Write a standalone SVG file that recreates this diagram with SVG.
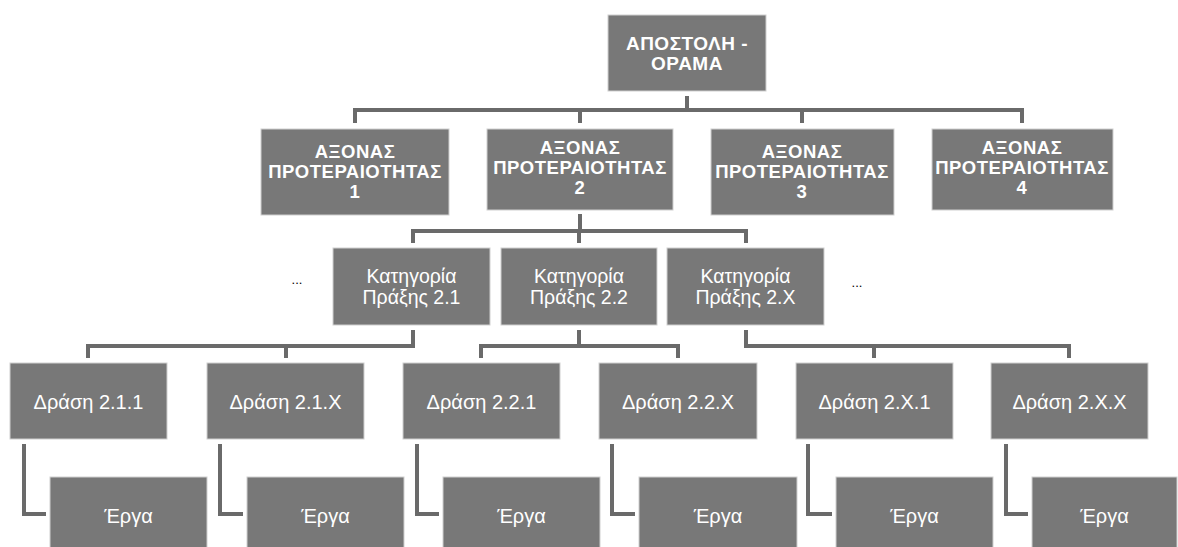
<svg xmlns="http://www.w3.org/2000/svg" width="1178" height="547" viewBox="0 0 1178 547">
<style>
.box{fill:#787878;stroke:#cfcfcf;stroke-width:1}
.b{font-family:"Liberation Sans",Arial,sans-serif;font-weight:bold;fill:#fff;text-anchor:middle}
.t1{font-size:19px;letter-spacing:0.5px}
.t2{font-size:18.5px;letter-spacing:0.5px}
.r{font-family:"Liberation Sans",Arial,sans-serif;font-size:20px;fill:#fff;text-anchor:middle}
.c{font-size:19.5px}
.dots{font-family:"Liberation Sans",Arial,sans-serif;font-size:13px;fill:#000;text-anchor:middle}
.con{fill:none;stroke:#6a6a6a;stroke-width:4;stroke-linejoin:miter}
</style>
<rect width="1178" height="547" fill="#fff"/>
<g id="connectors" class="con">
<path d="M687 96V110"/>
<path d="M355 123V110H1022V123"/>
<path d="M580 110V123"/>
<path d="M802 110V123"/>
<path d="M580 214V231"/>
<path d="M413 243V231H746V243"/>
<path d="M579 231V243"/>
<path d="M413 330V346H88V358"/>
<path d="M286 346V358"/>
<path d="M579 330V346"/>
<path d="M481 358V346H678V358"/>
<path d="M746 330V346H1069V358"/>
<path d="M874 346V358"/>
<path d="M24 444V514H46"/>
<path d="M220 444V514H243"/>
<path d="M417 444V514H439"/>
<path d="M612 444V514H635"/>
<path d="M808 444V514H832"/>
<path d="M1006 444V514H1028"/>
</g>
<g id="mission"><rect class="box" x="608" y="15" width="158" height="76"/><text class="b t1" x="687" y="50">ΑΠΟΣΤΟΛΗ -</text><text class="b t1" x="687" y="70">ΟΡΑΜΑ</text></g>
<g id="axis1"><rect class="box" x="261" y="129" width="188" height="86"/><text class="b t2" x="355" y="157.5">ΑΞΟΝΑΣ</text><text class="b t2" x="355" y="177.5">ΠΡΟΤΕΡΑΙΟΤΗΤΑΣ</text><text class="b t2" x="355" y="197.5">1</text></g>
<g id="axis2"><rect class="box" x="487" y="129" width="186" height="81"/><text class="b t2" x="580" y="153.5">ΑΞΟΝΑΣ</text><text class="b t2" x="580" y="173.5">ΠΡΟΤΕΡΑΙΟΤΗΤΑΣ</text><text class="b t2" x="580" y="193.5">2</text></g>
<g id="axis3"><rect class="box" x="711" y="129" width="183" height="86"/><text class="b t2" x="802" y="157.5">ΑΞΟΝΑΣ</text><text class="b t2" x="802" y="177.5">ΠΡΟΤΕΡΑΙΟΤΗΤΑΣ</text><text class="b t2" x="802" y="197.5">3</text></g>
<g id="axis4"><rect class="box" x="932" y="129" width="181" height="81"/><text class="b t2" x="1022" y="153.5">ΑΞΟΝΑΣ</text><text class="b t2" x="1022" y="173.5">ΠΡΟΤΕΡΑΙΟΤΗΤΑΣ</text><text class="b t2" x="1022" y="193.5">4</text></g>
<g id="dots-left"><text class="dots" x="297" y="284">...</text></g>
<g id="dots-right"><text class="dots" x="857" y="287">...</text></g>
<g id="cat21"><rect class="box" x="333" y="248" width="157" height="77"/><text class="r c" x="411.5" y="283">Κατηγορία</text><text class="r c" x="411.5" y="304">Πράξης 2.1</text></g>
<g id="cat22"><rect class="box" x="501" y="248" width="156" height="77"/><text class="r c" x="579" y="283">Κατηγορία</text><text class="r c" x="579" y="304">Πράξης 2.2</text></g>
<g id="cat2x"><rect class="box" x="667" y="248" width="157" height="77"/><text class="r c" x="745.5" y="283">Κατηγορία</text><text class="r c" x="745.5" y="304">Πράξης 2.Χ</text></g>
<g id="d211"><rect class="box" x="10" y="363" width="157" height="76"/><text class="r" x="88.5" y="409">Δράση 2.1.1</text></g>
<g id="d21x"><rect class="box" x="207" y="363" width="157" height="76"/><text class="r" x="285.5" y="409">Δράση 2.1.Χ</text></g>
<g id="d221"><rect class="box" x="403" y="363" width="157" height="76"/><text class="r" x="481.5" y="409">Δράση 2.2.1</text></g>
<g id="d22x"><rect class="box" x="599" y="363" width="158" height="76"/><text class="r" x="678" y="409">Δράση 2.2.Χ</text></g>
<g id="d2x1"><rect class="box" x="796" y="363" width="157" height="76"/><text class="r" x="874.5" y="409">Δράση 2.Χ.1</text></g>
<g id="d2xx"><rect class="box" x="991" y="363" width="157" height="76"/><text class="r" x="1069.5" y="409">Δράση 2.Χ.Χ</text></g>
<g id="e1"><rect class="box" x="50" y="477" width="157" height="80"/><text class="r" x="128.5" y="523">Έργα</text></g>
<g id="e2"><rect class="box" x="247" y="477" width="157" height="80"/><text class="r" x="325.5" y="523">Έργα</text></g>
<g id="e3"><rect class="box" x="443" y="477" width="157" height="80"/><text class="r" x="521.5" y="523">Έργα</text></g>
<g id="e4"><rect class="box" x="639" y="477" width="158" height="80"/><text class="r" x="718" y="523">Έργα</text></g>
<g id="e5"><rect class="box" x="836" y="477" width="157" height="80"/><text class="r" x="914.5" y="523">Έργα</text></g>
<g id="e6"><rect class="box" x="1032" y="477" width="145" height="80"/><text class="r" x="1104.5" y="523">Έργα</text></g>
</svg>
